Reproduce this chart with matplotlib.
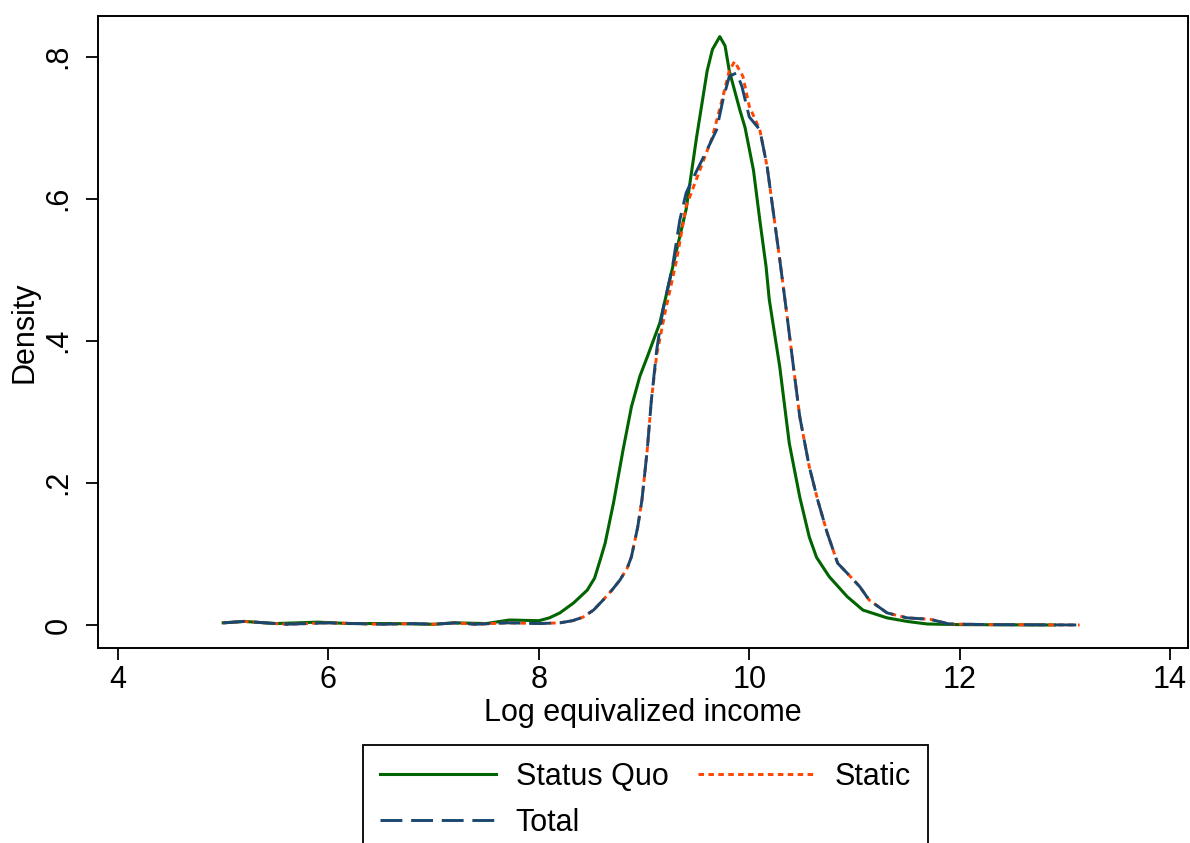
import matplotlib
matplotlib.use("Agg")
import matplotlib.pyplot as plt

plt.rcParams['font.family'] = ['Liberation Sans', 'DejaVu Sans']

# ---- data ----
sq_x = [5.0, 5.2, 5.5, 5.9, 6.2, 6.6, 7.0, 7.2, 7.5, 7.72, 8.0, 8.1, 8.2, 8.33, 8.46, 8.53,
        8.58, 8.63, 8.71, 8.80, 8.88, 8.96, 9.03, 9.15, 9.31, 9.40, 9.50, 9.60, 9.65,
        9.72, 9.77, 9.81, 9.91, 9.96, 10.04, 10.10, 10.16, 10.19, 10.29, 10.38, 10.48,
        10.57, 10.64, 10.76, 10.93, 11.08, 11.31, 11.5, 11.69, 12.0, 12.9]
sq_y = [0.003, 0.005, 0.002, 0.004, 0.002, 0.002, 0.001, 0.003, 0.002, 0.007, 0.006,
        0.010, 0.017, 0.031, 0.049, 0.066, 0.090, 0.115, 0.172, 0.246, 0.307, 0.350,
        0.377, 0.425, 0.528, 0.585, 0.687, 0.780, 0.810, 0.828, 0.815, 0.780, 0.725,
        0.700, 0.640, 0.570, 0.504, 0.458, 0.363, 0.256, 0.180, 0.124, 0.095, 0.068,
        0.040, 0.021, 0.010, 0.005, 0.0014, 0.0005, 0.0]

tot_x = [5.0, 5.2, 5.6, 6.0, 6.5, 6.8, 7.0, 7.2, 7.4, 7.7, 8.0, 8.2, 8.32, 8.42, 8.52,
         8.61, 8.70, 8.77, 8.84, 8.88, 8.94, 8.98, 9.03, 9.07, 9.12, 9.18, 9.27, 9.34,
         9.40, 9.46, 9.60, 9.69, 9.75, 9.81, 9.88, 9.93, 10.0, 10.1, 10.17, 10.29, 10.36,
         10.42, 10.48, 10.57, 10.65, 10.74, 10.84, 10.93, 11.05, 11.14, 11.31, 11.5,
         11.72, 11.9, 12.3, 13.14]
tot_y = [0.003, 0.005, 0.001, 0.003, 0.001, 0.002, 0.001, 0.003, 0.001, 0.003, 0.002,
         0.003, 0.006, 0.011, 0.021, 0.035, 0.050, 0.063, 0.080, 0.096, 0.138, 0.176,
         0.246, 0.317, 0.387, 0.444, 0.504, 0.570, 0.608, 0.627, 0.669, 0.697, 0.739,
         0.772, 0.777, 0.758, 0.715, 0.697, 0.645, 0.514, 0.434, 0.363, 0.293, 0.223,
         0.176, 0.130, 0.087, 0.073, 0.054, 0.035, 0.017, 0.010, 0.008, 0.0014, 0.0005,
         0.0]

st_x = [5.0, 5.2, 5.6, 6.0, 6.5, 6.8, 7.0, 7.2, 7.4, 7.7, 8.0, 8.2, 8.32, 8.42, 8.52,
        8.61, 8.70, 8.77, 8.84, 8.88, 8.94, 8.98, 9.03, 9.07, 9.12, 9.20, 9.31, 9.40,
        9.53, 9.65, 9.75, 9.81, 9.86, 9.94, 10.0, 10.1, 10.17, 10.29, 10.36, 10.42,
        10.48, 10.57, 10.65, 10.74, 10.84, 10.93, 11.05, 11.14, 11.31, 11.5, 11.72,
        11.9, 12.3, 13.14]
st_y = [0.003, 0.005, 0.001, 0.003, 0.001, 0.002, 0.001, 0.003, 0.001, 0.003, 0.002,
        0.003, 0.006, 0.011, 0.021, 0.035, 0.050, 0.063, 0.080, 0.096, 0.138, 0.176,
        0.246, 0.317, 0.380, 0.440, 0.514, 0.589, 0.640, 0.687, 0.744, 0.780, 0.793,
        0.772, 0.730, 0.697, 0.645, 0.514, 0.434, 0.363, 0.293, 0.223, 0.176, 0.130,
        0.087, 0.073, 0.054, 0.035, 0.017, 0.010, 0.008, 0.0014, 0.0005, 0.0]

x_ticks = [4, 6, 8, 10, 12, 14]
y_ticks = [0, 0.2, 0.4, 0.6, 0.8]
y_tick_labels = ["0", ".2", ".4", ".6", ".8"]
labels = ["Status Quo", "Static", "Total"]
colors = ["#006400", "#FF4500", "#1A476F"]

fig = plt.figure(figsize=(11.9, 8.43), dpi=100)
ax = fig.add_axes([98 / 1190, 1 - 648 / 843, (1188 - 98) / 1190, (648 - 16) / 843])

l1, = ax.plot(sq_x, sq_y, color=colors[0], lw=2.2, solid_joinstyle='round')
l2, = ax.plot(st_x, st_y, color=colors[1], lw=2.1, dashes=(1.9, 1.5))
l3, = ax.plot(tot_x, tot_y, color=colors[2], lw=2.1, dashes=(7.5, 3))

ax.set_xlim(3.81, 14.17)
ax.set_ylim(-0.0324, 0.857)
ax.set_xticks(x_ticks)
ax.set_xticklabels([str(t) for t in x_ticks])
ax.set_yticks(y_ticks)
ax.set_yticklabels(y_tick_labels, rotation=90, va='center')
ax.tick_params(axis='both', direction='out', length=8.5, width=1.3, labelsize=22)
ax.tick_params(axis='y', pad=9)
ax.tick_params(axis='x', pad=4)
for s in ax.spines.values():
    s.set_linewidth(1.4)
ax.set_xlabel("Log equivalized income", fontsize=22, labelpad=2)
ax.set_ylabel("Density", fontsize=22, labelpad=3)

leg = fig.legend([l1, l3, l2], [labels[0], labels[2], labels[1]], ncol=2,
                 loc='upper left', bbox_to_anchor=(363 / 1190, 1 - 745 / 843),
                 fontsize=22, frameon=True, fancybox=False, edgecolor='black',
                 framealpha=1.0,
                 handlelength=3.8, handletextpad=0.65, columnspacing=0.98,
                 labelspacing=0.52, borderpad=0.55, borderaxespad=0)
leg.get_frame().set_linewidth(1.3)

fig.savefig("out.png", dpi=100)
